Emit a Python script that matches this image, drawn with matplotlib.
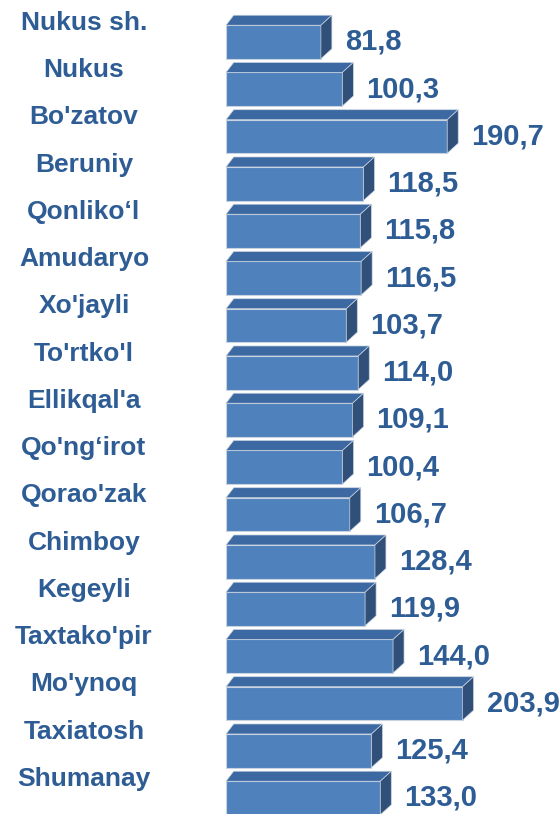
import numpy as np
import matplotlib.pyplot as plt
from matplotlib.patches import Polygon

regions = ["Nukus sh.", "Nukus", "Bo'zatov", "Beruniy", "Qonliko\u2018l", "Amudaryo",
           "Xo'jayli", "To'rtko'l", "Ellikqal'a", "Qo'ng\u2018irot", "Qorao'zak",
           "Chimboy", "Kegeyli", "Taxtako'pir", "Mo'ynoq", "Taxiatosh", "Shumanay"]
values = [81.8, 100.3, 190.7, 118.5, 115.8, 116.5, 103.7, 114.0, 109.1, 100.4,
          106.7, 128.4, 119.9, 144.0, 203.9, 125.4, 133.0]

front = "#4F81BD"
top_col = "#3D69A2"
side_col = "#30507A"
text_col = "#2E5C94"

plt.rcParams['font.family'] = ['Liberation Sans', 'DejaVu Sans']

W, H = 560, 814
fig = plt.figure(figsize=(W / 100, H / 100), dpi=100)
ax = fig.add_axes([0, 0, 1, 1])

px = 1.16      # pixels per unit
pitch = 47.25  # pixels per row
x0 = 226
y0 = 42
ax.set_xlim(-x0 / px, (W - x0) / px)
ax.set_ylim((H - y0) / pitch, -y0 / pitch)
ax.axis('off')

h = 0.71
dx = 11 / px
dy = 10 / pitch

ypos = np.arange(len(values))
ax.barh(ypos, values, height=h, color=front, edgecolor="#c9d3e0", linewidth=0.8, zorder=2)

for y, v in zip(ypos, values):
    t, b = y - h / 2, y + h / 2
    ax.add_patch(Polygon([(0, t), (v, t), (v + dx, t - dy), (dx * 0.7, t - dy)],
                         closed=True, facecolor=top_col, edgecolor="#c9d3e0", lw=0.5, zorder=3))
    ax.add_patch(Polygon([(v, t), (v + dx, t - dy), (v + dx, b - dy), (v, b)],
                         closed=True, facecolor=side_col, edgecolor="#c9d3e0", lw=0.5, zorder=3))
    ax.text(v + 24 / px, y, f"{v:.1f}".replace('.', ','), ha='left', va='center',
            fontsize=21, fontweight='bold', color=text_col)

for y, name in zip(ypos, regions):
    ax.text((84 - x0) / px, y - 19 / pitch, name, ha='center', va='center',
            fontsize=19, fontweight='bold', color=text_col)

fig.savefig("out.png", dpi=100)
